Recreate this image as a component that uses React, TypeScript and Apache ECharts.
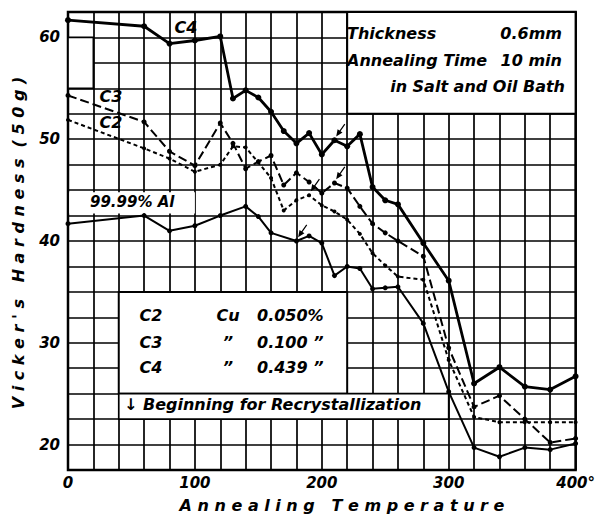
import React, { useEffect, useRef } from "react";
import * as echarts from "echarts";

// Annealing temperature (x) and Vickers hardness (y) per alloy
const xC4 = [0, 60, 80, 100, 120, 130, 140, 150, 160, 170, 180, 190, 200, 210, 220, 230, 240, 250, 260, 280, 300, 320, 340, 360, 380, 400];
const yC4 = [61.7, 61.1, 59.4, 59.7, 60.1, 54.0, 54.8, 54.1, 52.7, 50.8, 49.6, 50.6, 48.5, 49.9, 49.3, 50.5, 45.3, 44.0, 43.6, 39.8, 36.1, 26.0, 27.6, 25.7, 25.4, 26.7];

const xC3 = [0, 60, 80, 100, 120, 130, 140, 150, 160, 170, 180, 190, 200, 210, 220, 230, 240, 250, 260, 280, 300, 320, 340, 360, 380, 400];
const yC3 = [54.3, 51.7, 48.8, 47.4, 51.6, 49.6, 47.1, 47.8, 48.4, 45.5, 46.7, 45.8, 44.7, 45.7, 45.2, 43.4, 41.7, 40.8, 40.0, 38.5, 29.5, 23.7, 24.8, 22.5, 20.2, 20.6];

const xC2 = [0, 60, 80, 100, 120, 130, 140, 160, 170, 180, 190, 200, 210, 220, 230, 240, 250, 260, 280, 300, 320, 340, 360, 380, 400];
const yC2 = [51.9, 49.1, 48.1, 46.8, 47.5, 49.3, 49.2, 46.2, 43.0, 44.0, 44.5, 43.5, 42.9, 42.1, 40.7, 38.8, 37.6, 36.5, 36.2, 28.3, 22.7, 22.2, 22.2, 22.2, 22.2];

const xAl = [0, 60, 80, 100, 120, 140, 150, 160, 180, 190, 200, 210, 220, 230, 240, 250, 260, 280, 300, 320, 340, 360, 380, 400];
const yAl = [41.7, 42.5, 41.0, 41.5, 42.5, 43.4, 42.4, 40.8, 40.0, 40.5, 39.8, 36.6, 37.5, 37.3, 35.3, 35.4, 35.5, 31.9, 25.2, 19.7, 18.8, 19.7, 19.5, 20.1];

// Beginning of recrystallization markers [x, y]
const arrowC4 = [210, 49.9];
const arrowC3 = [210, 45.7];
const arrowC2 = [190, 44.5];
const arrowAl = [180, 40.0];

const xTicks = [0, 100, 200, 300, 400];
const yTicks = [20, 30, 40, 50, 60];

const FONT = "DejaVu Sans";
const ARROW = "path://M4,0 L6,0 L6,11 L10,11 L5,20 L0,11 L4,11 Z";

const zip = (xs: number[], ys: number[]) => xs.map((x, i) => [x, ys[i]]);

const arrowMark = (c: number[]) => ({
  silent: true,
  symbol: ARROW,
  symbolSize: [6, 15],
  symbolRotate: -35,
  symbolOffset: [6, -10],
  itemStyle: { color: "#000" },
  label: { show: false },
  data: [{ coord: c }],
});

const txt = (text: string, x: number, y: number, size: number, align = "left", extra: any = {}) => ({
  type: "text",
  x,
  y,
  ...extra,
  style: {
    text,
    fill: "#000",
    font: `italic bold ${size}px "${FONT}"`,
    align,
    verticalAlign: "middle",
  },
  z: 100,
});

export default function App() {
  const ref = useRef<HTMLDivElement>(null);
  useEffect(() => {
    if (!ref.current) return;
    const chart = echarts.init(ref.current, null, { renderer: "svg" });
    const lblStyle = { fontFamily: FONT, fontStyle: "italic", fontWeight: "bold", fontSize: 15, color: "#000" } as any;
    chart.setOption({
      animation: false,
      backgroundColor: "#fff",
      grid: { left: 68, right: 18, top: 12, bottom: 48, show: true, borderColor: "#000", borderWidth: 2.5, backgroundColor: "#fff" },
      xAxis: {
        type: "value",
        min: 0,
        max: 400,
        interval: 20,
        axisLine: { show: false },
        axisTick: { show: false },
        splitLine: { show: true, lineStyle: { color: "#000", width: 1.7 } },
        axisLabel: {
          ...lblStyle,
          margin: 5,
          formatter: (v: number) => (xTicks.includes(v) ? (v === 400 ? "400°" : String(v)) : ""),
        },
      },
      yAxis: {
        type: "value",
        min: 17.5,
        max: 62.5,
        interval: 2.5,
        axisLine: { show: false },
        axisTick: { show: false },
        splitLine: { show: true, lineStyle: { color: "#000", width: 1.7 } },
        axisLabel: {
          ...lblStyle,
          margin: 8,
          formatter: (v: number) => (yTicks.includes(v) ? String(v) : ""),
        },
      },
      series: [
        {
          type: "line",
          name: "mask",
          data: [],
          silent: true,
          z: 2,
          markArea: {
            silent: true,
            data: [
              [{ coord: [220, 62.5], itemStyle: { color: "#fff", borderColor: "#000", borderWidth: 2 } }, { coord: [400, 52.5] }],
              [{ coord: [0, 60], itemStyle: { color: "#fff", borderColor: "#000", borderWidth: 1.7 } }, { coord: [20, 55] }],
              [{ coord: [40, 35], itemStyle: { color: "#fff", borderColor: "#000", borderWidth: 2 } }, { coord: [220, 25] }],
              [{ coord: [40, 25], itemStyle: { color: "#fff", borderColor: "#000", borderWidth: 1.7 } }, { coord: [300, 22.5] }],
              [{ coord: [1, 44.8], itemStyle: { color: "#fff", borderWidth: 0 } }, { coord: [100, 42.7] }],
            ],
          },
        },
        {
          type: "line",
          name: "C4",
          z: 5,
          data: zip(xC4, yC4),
          symbol: "circle",
          symbolSize: 6,
          itemStyle: { color: "#000" },
          lineStyle: { color: "#000", width: 2.8 },
          markPoint: arrowMark(arrowC4),
        },
        {
          type: "line",
          name: "C3",
          z: 5,
          data: zip(xC3, yC3),
          symbol: "circle",
          symbolSize: 5,
          itemStyle: { color: "#000" },
          lineStyle: { color: "#000", width: 2, type: [9, 4] },
          markPoint: arrowMark(arrowC3),
        },
        {
          type: "line",
          name: "C2",
          z: 5,
          data: zip(xC2, yC2),
          symbol: "circle",
          symbolSize: 4,
          itemStyle: { color: "#000" },
          lineStyle: { color: "#000", width: 2, type: [4, 3] },
          markPoint: arrowMark(arrowC2),
        },
        {
          type: "line",
          name: "99.99% Al",
          z: 5,
          data: zip(xAl, yAl),
          symbol: "circle",
          symbolSize: 5,
          itemStyle: { color: "#000" },
          lineStyle: { color: "#000", width: 2 },
          markPoint: arrowMark(arrowAl),
        },
      ],
      graphic: [
        txt("Thickness", 347, 33, 16),
        txt("0.6mm", 562, 33, 16, "right"),
        txt("Annealing Time", 347, 60, 16),
        txt("10 min", 562, 60, 16, "right"),
        txt("in Salt and Oil Bath", 565, 86, 16, "right"),
        txt("C4", 186, 27, 16, "center"),
        txt("C3", 111, 96, 16, "center"),
        txt("C2", 111, 122, 16, "center"),
        txt("99.99% Al", 90, 202, 15),
        txt("C2", 151, 315, 16, "center"),
        txt("Cu", 228, 315, 16, "center"),
        txt("0.050%", 257, 315, 16),
        txt("C3", 151, 342, 16, "center"),
        txt("\u201D", 228, 342, 16, "center"),
        txt("0.100 \u201D", 257, 342, 16),
        txt("C4", 151, 367, 16, "center"),
        txt("\u201D", 228, 367, 16, "center"),
        txt("0.439 \u201D", 257, 367, 16),
        txt("\u2193 Beginning for Recrystallization", 124, 404, 16),
        txt("V i c k e r ' s   H a r d n e s s  ( 5 0 g )", 18, 243, 16, "center", { rotation: Math.PI / 2 }),
        txt("A n n e a l i n g   T e m p e r a t u r e", 342, 505, 16, "center"),
      ],
    });
    return () => chart.dispose();
  }, []);
  return <div ref={ref} style={{ position: "fixed", left: 0, top: 0, width: 598, height: 518, background: "#fff" }} />;
}
